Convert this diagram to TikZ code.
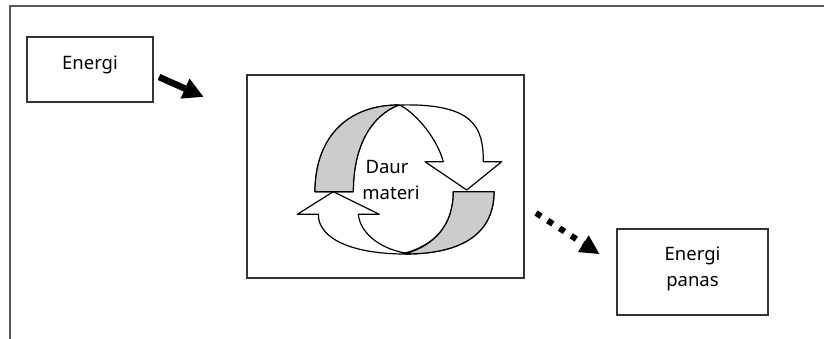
\documentclass[tikz,border=0pt]{standalone}
\usepackage{fontspec}
\setmainfont{Noto Sans}
\usetikzlibrary{arrows.meta}
\begin{document}
\begin{tikzpicture}[x=1pt,y=-1pt,
  frame/.style={draw=black!65,line width=2pt},
  box/.style={draw=black!80,line width=1.5pt,fill=white,inner sep=0pt},
  txt/.style={font=\fontsize{18.5}{22}\selectfont,inner sep=0pt,anchor=base},
  cyc/.style={draw=black,line width=1.2pt,line join=round},
  graypart/.style={cyc,fill=black!20},
  whitepart/.style={cyc,fill=white},
  solidarrow/.style={line width=6.5pt,-{Triangle[length=20pt,width=22pt,line width=0pt]}},
  dotarrow/.style={line width=6pt,dash pattern=on 6pt off 8pt,-{Triangle[length=19pt,width=20pt,line width=0pt]}}]
\useasboundingbox (0,0) rectangle (824,339);
\draw[frame] (10,339) -- (10,6.5) -- (824,6.5);
% boxes
\node[box,minimum width=126pt,minimum height=65pt] (energi) at (90,69.5) {};
\node[txt] (energitxt) at (90,69.3) {Energi};
\node[box,minimum width=277pt,minimum height=203pt] (daur) at (385.5,176.5) {};
\node[box,minimum width=151pt,minimum height=86pt] (panas) at (692.5,272) {};
\node[txt] (panas1) at (692.5,260) {Energi};
\node[txt] (panas2) at (692.5,286) {panas};
% lower cycle arrow
\path[whitepart] (494,191.7) .. controls (494,235) and (460,254) .. (405,254)
  .. controls (355,254) and (318.3,240) .. (318.3,214.3)
  -- (297.3,214.3) -- (333.3,191.7) -- (379.3,214.3) -- (358.3,214.3)
  .. controls (360,232) and (378,248) .. (405,253)
  .. controls (435,245) and (453.3,225) .. (453.3,191.7) -- cycle;
\path[graypart] (494,191.7) .. controls (494,235) and (460,254) .. (405,254)
  .. controls (435,245) and (453.3,225) .. (453.3,191.7) -- cycle;
% upper cycle arrow
\path[whitepart] (315,191.7) .. controls (315,140) and (345,105) .. (399,105)
  .. controls (475,103) and (483.3,128) .. (483.3,161.7)
  -- (501.7,161.7) -- (466.7,190) -- (425,161.7) -- (443.3,161.7)
  .. controls (436,135) and (412,110) .. (399,105)
  .. controls (372,115) and (353.3,145) .. (353.3,191.7) -- cycle;
\path[graypart] (315,191.7) .. controls (315,140) and (345,105) .. (399,105)
  .. controls (372,115) and (353.3,145) .. (353.3,191.7) -- cycle;
\node[txt] (daur1) at (387,173.3) {Daur};
\node[txt] (daur2) at (391,199.3) {materi};
% connectors
\coordinate (s1) at (159,77);
\coordinate (t1) at (203.3,96.7);
\draw[solidarrow] (s1) -- (t1);
\coordinate (s2) at (536,213);
\coordinate (t2) at (599.3,254);
\draw[dotarrow] (s2) -- (t2);
\end{tikzpicture}
\end{document}
